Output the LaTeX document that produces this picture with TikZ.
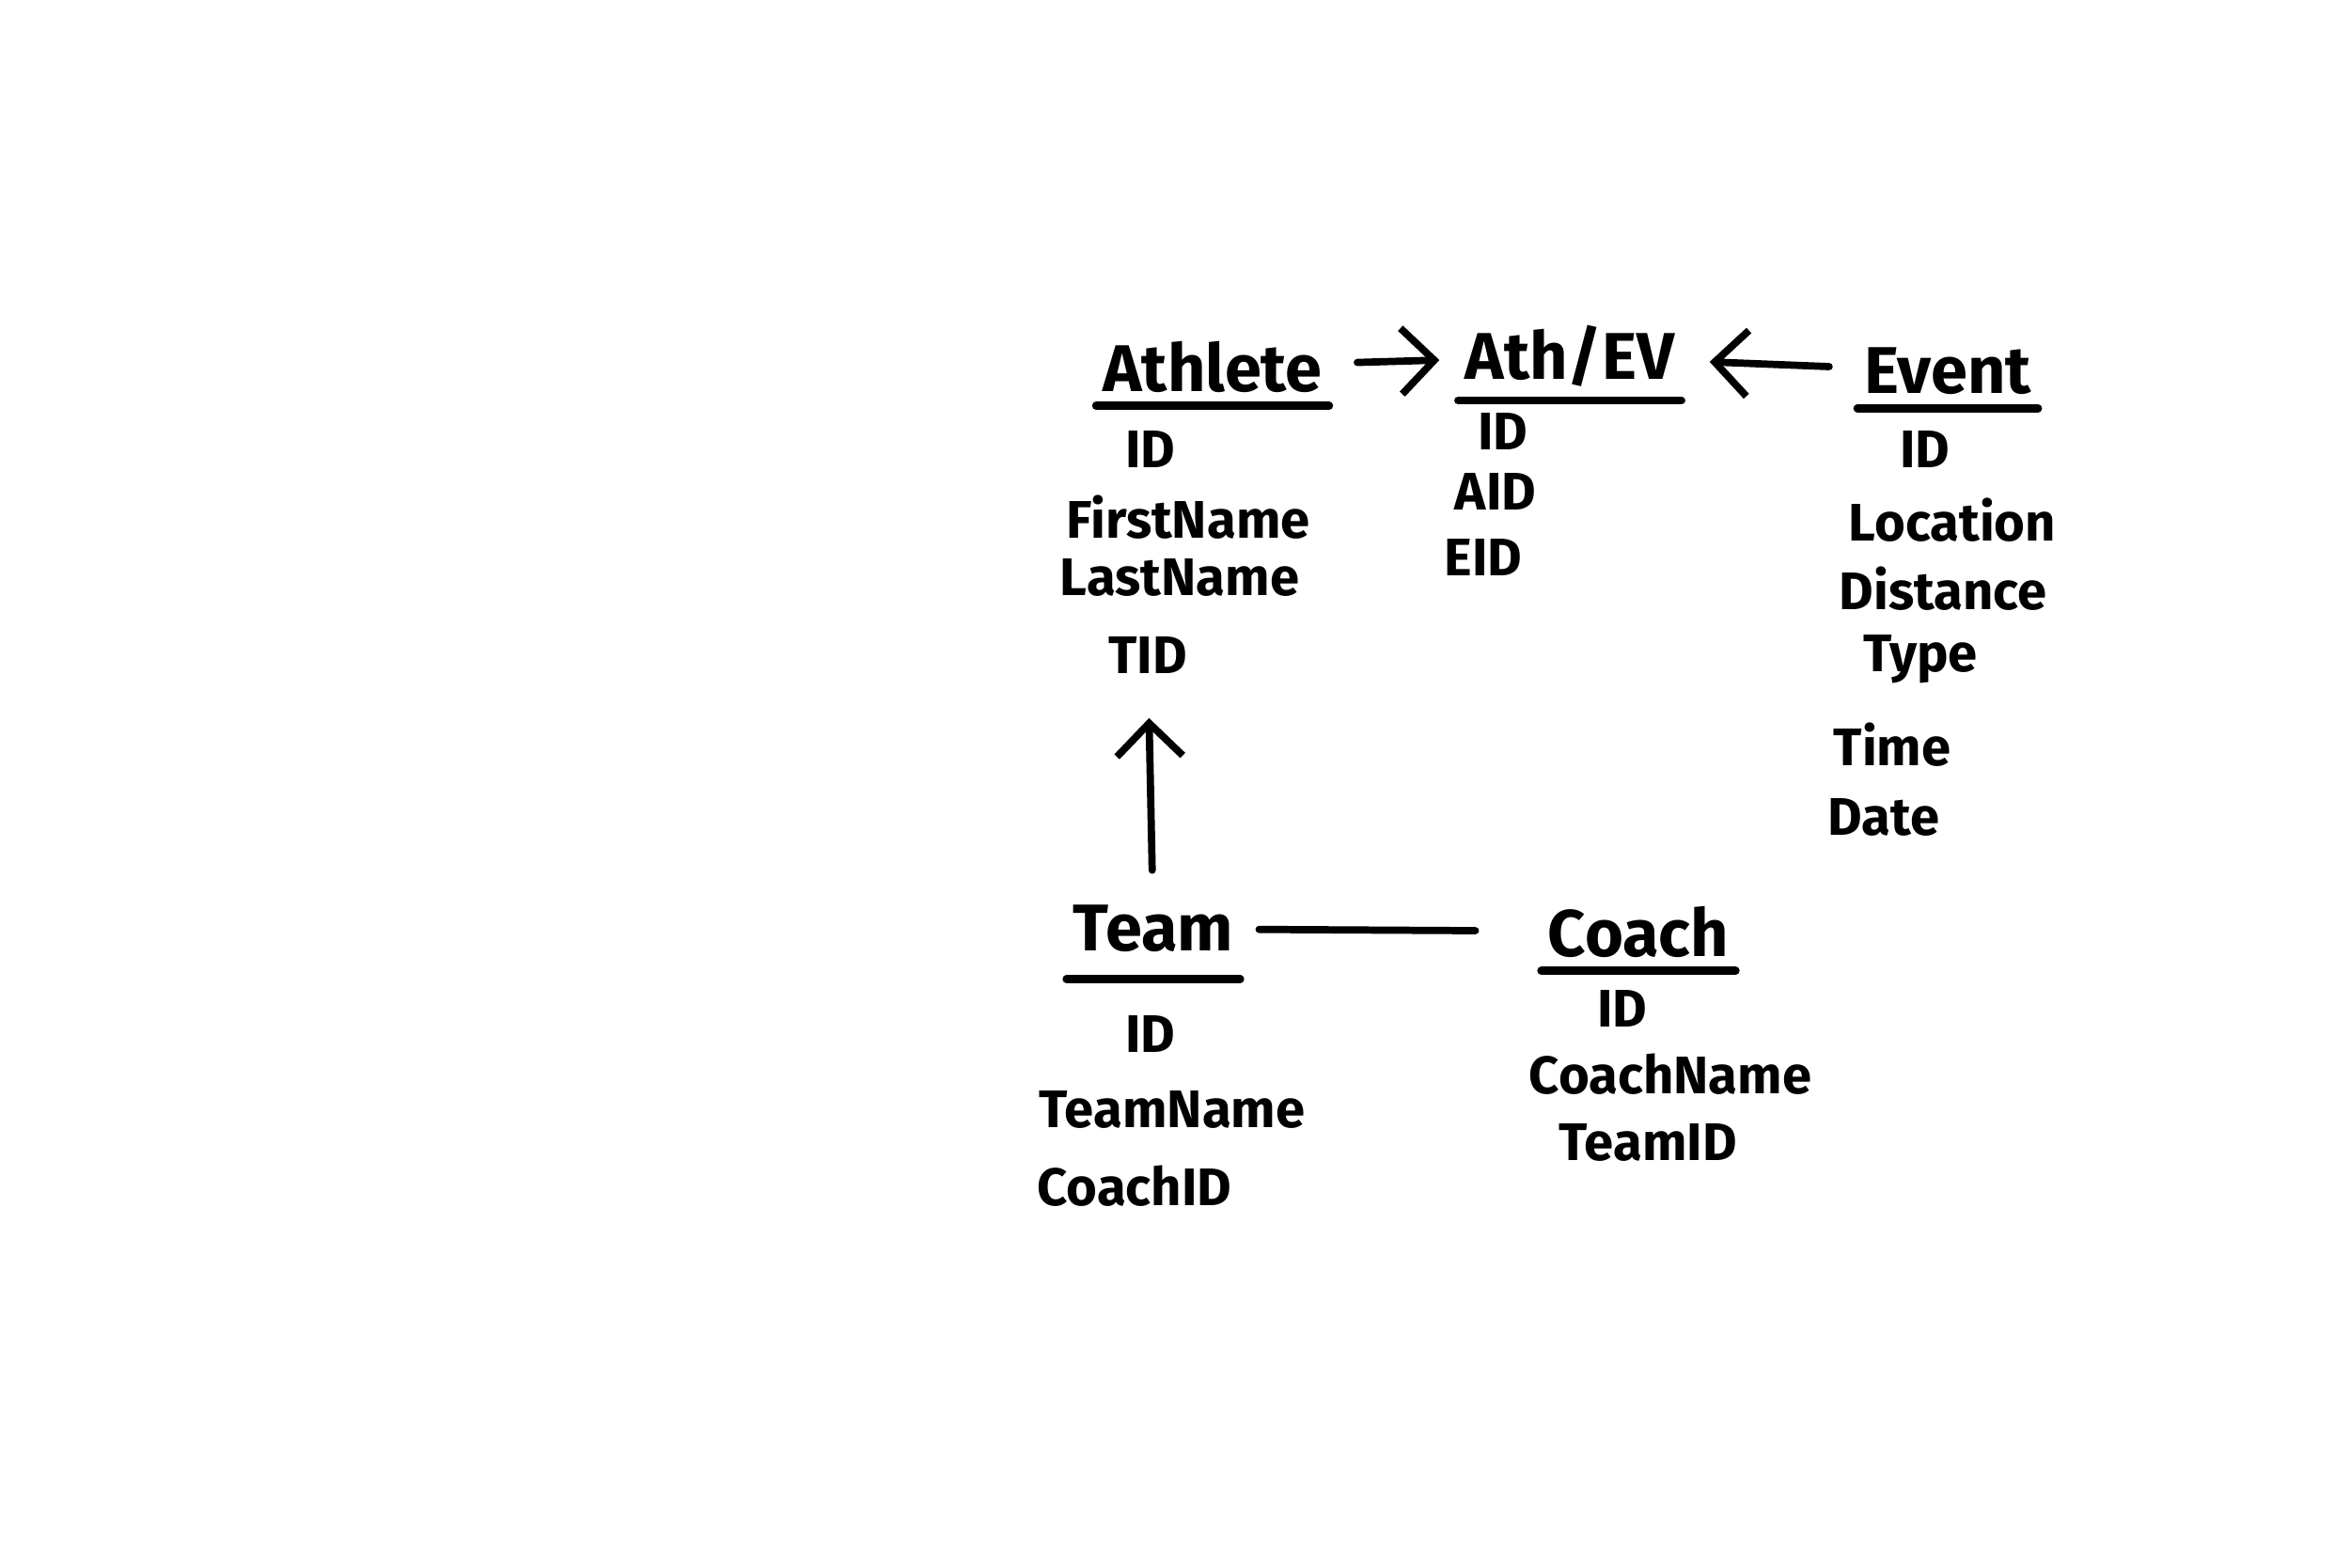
\documentclass[tikz,border=0pt]{standalone}
\usepackage{fontspec}
\setmainfont{Fira Sans}
\usetikzlibrary{arrows.meta}
\tikzset{ttl/.style={font=\fontsize{20}{24}\selectfont\bfseries, inner sep=1pt},
  attr/.style={font=\fontsize{16}{19}\selectfont\bfseries, inner sep=1pt},
  uline/.style={line width=2.4pt, line cap=round}}

\begin{document}
\begin{tikzpicture}[>={Straight Barb[length=3.5mm,width=7mm]}, line width=2.2pt,
  line cap=round]
  \useasboundingbox (0,0) rectangle (25,-16.67);
  % tables
  \node[ttl] (athlete) at (12.90,-3.90) {Athlete};
  \node[ttl] (athev)   at (16.70,-3.79) {Ath/EV};
  \node[ttl] (event)   at (20.72,-3.95) {Event};
  \node[ttl] (team)    at (12.27,-9.88) {Team};
  \node[ttl] (coach)   at (17.43,-9.91) {Coach};
  \draw[uline] ([yshift=-2pt]athlete.south west) -- ([yshift=-2pt]athlete.south east);
  \draw[uline] ([yshift=-2pt]athev.south west)   -- ([yshift=-2pt]athev.south east);
  \draw[uline] ([yshift=-2pt]event.south west)   -- ([yshift=-2pt]event.south east);
  \draw[uline] ([yshift=-6pt]team.south west)    -- ([yshift=-6pt]team.south east);
  \draw[uline] ([yshift=-2pt]coach.south west)   -- ([yshift=-2pt]coach.south east);
  % attributes
  \node[attr] (athid)  at (12.24,-4.78) {ID};
  \node[attr] (afirst) at (12.64,-5.50) {FirstName};
  \node[attr] (alast)  at (12.55,-6.14) {LastName};
  \node[attr] (tid)    at (12.21,-6.97) {TID};
  \node[attr] (aeid)   at (15.99,-4.59) {ID};
  \node[attr] (aid)    at (15.91,-5.23) {AID};
  \node[attr] (eid)    at (15.78,-5.93) {EID};
  \node[attr] (evid)   at (20.48,-4.78) {ID};
  \node[attr] (eloc)   at (20.77,-5.53) {Location};
  \node[attr] (edist)  at (20.67,-6.26) {Distance};
  \node[attr] (etype)  at (20.43,-7.01) {Type};
  \node[attr] (etime)  at (20.13,-7.92) {Time};
  \node[attr] (edate)  at (20.04,-8.69) {Date};
  \node[attr] (tmid)   at (12.24,-11.00) {ID};
  \node[attr] (tname)  at (12.47,-11.80) {TeamName};
  \node[attr] (tcid)   at (12.07,-12.62) {CoachID};
  \node[attr] (cid)    at (17.26,-10.73) {ID};
  \node[attr] (cname)  at (17.77,-11.43) {CoachName};
  \node[attr] (ctid)   at (17.53,-12.15) {TeamID};
  % links
  \draw[->, shorten <=3mm, shorten >=2mm] (athlete) -- (athev);
  \draw[->, shorten <=3mm, shorten >=3mm] (event) -- (athev);
  \draw[->, shorten <=3mm, shorten >=4mm] (team) -- (tid);
  \draw[shorten <=2mm, shorten >=7mm] (team) -- (coach);
\end{tikzpicture}
\end{document}
